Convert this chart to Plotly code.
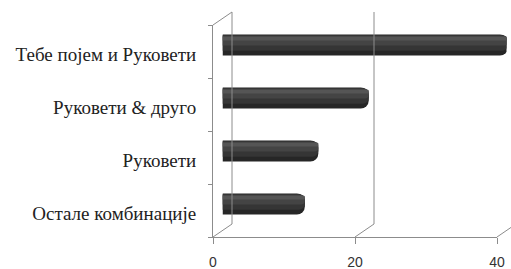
import plotly.graph_objects as go

categories = ["Остале комбинације", "Руковети", "Руковети & друго", "Тебе појем и Руковети"]
values = [11.6, 13.5, 20.6, 40.2]
x_ticks = [0, 20, 40]
x_range = [0, 40]

W, H = 511, 269
# front plane geometry (pixels)
FX0, FX1 = 213, 497
FY_TOP, FY_BOT = 25, 237
DX, DY = 19, -13  # depth offset of back wall


def px(x):
    return x / W


def py(y):
    return 1 - y / H


fig = go.Figure()

# cylinder-like bars: layered horizontal bars
layers = [
    (0.40, 0.0, "#262626", 8),
    (0.30, 0.04, "#353535", 6),
    (0.18, 0.08, "#444444", 4),
    (0.07, 0.12, "#555555", 2),
]
for width, shift, color, rad in layers:
    fig.add_trace(go.Bar(
        y=categories, x=values, orientation="h",
        xaxis="x2", yaxis="y2",
        width=width, offset=-width / 2 + shift,
        marker=dict(color=color, line=dict(width=0), cornerradius=rad),
        hoverinfo="skip", showlegend=False,
    ))

# invisible trace to activate front axes
fig.add_trace(go.Scatter(x=[0], y=[categories[0]], mode="markers",
                         marker=dict(opacity=0), xaxis="x", yaxis="y",
                         hoverinfo="skip", showlegend=False))

line_col = "#8c8c8c"
scale = (FX1 - FX0) / (x_range[1] - x_range[0])

fig.update_layout(
    width=W, height=H,
    margin=dict(l=0, r=0, t=0, b=0),
    paper_bgcolor="white", plot_bgcolor="rgba(0,0,0,0)",
    barmode="overlay",
    xaxis=dict(domain=[px(FX0), px(FX1)], range=x_range, tickvals=x_ticks,
               showgrid=False, zeroline=False, showline=True, linecolor=line_col,
               ticks="outside", ticklen=6, tickcolor=line_col,
               ticklabelstandoff=6,
               tickfont=dict(family="Liberation Sans", size=14, color="#333333"),
               anchor="y", automargin=False),
    yaxis=dict(domain=[py(FY_BOT), py(FY_TOP)], type="category",
               categoryarray=categories, categoryorder="array",
               range=[-0.5, 3.5], tickson="boundaries",
               showgrid=False, zeroline=False, showline=True, linecolor=line_col,
               ticks="outside", ticklen=4, tickcolor=line_col,
               ticklabelstandoff=12, ticklabelshift=3,
               tickfont=dict(family="Liberation Serif", size=19, color="#222222"),
               anchor="x", automargin=False),
    xaxis2=dict(domain=[px(FX0 + DX / 2), px(FX1 + DX / 2)], range=x_range,
                visible=False, anchor="y2", automargin=False),
    yaxis2=dict(domain=[py(FY_BOT + DY / 2), py(FY_TOP + DY / 2)], type="category",
                categoryarray=categories, categoryorder="array",
                range=[-0.5, 3.5], visible=False, anchor="x2", automargin=False),
)

shapes = []


def seg(x0, y0, x1, y1):
    shapes.append(dict(type="line", xref="paper", yref="paper",
                       x0=px(x0), y0=py(y0), x1=px(x1), y1=py(y1),
                       line=dict(color=line_col, width=1)))


# left wall edges
seg(FX0, FY_TOP, FX0 + DX, FY_TOP + DY)
seg(FX0 + DX, FY_TOP + DY, FX0 + DX, FY_BOT + DY)
seg(FX0 + DX, FY_BOT + DY, FX0, FY_BOT)
# back gridlines with floor diagonals
for t in x_ticks[1:]:
    xf = FX0 + t * scale
    seg(xf + DX, FY_TOP + DY, xf + DX, FY_BOT + DY)
    seg(xf + DX, FY_BOT + DY, xf, FY_BOT)

fig.update_layout(shapes=shapes)
fig.write_html("out.html",
               config={"displayModeBar": False},
               post_script="document.body.style.margin='0';document.body.style.padding='0';document.body.style.overflow='hidden';")
